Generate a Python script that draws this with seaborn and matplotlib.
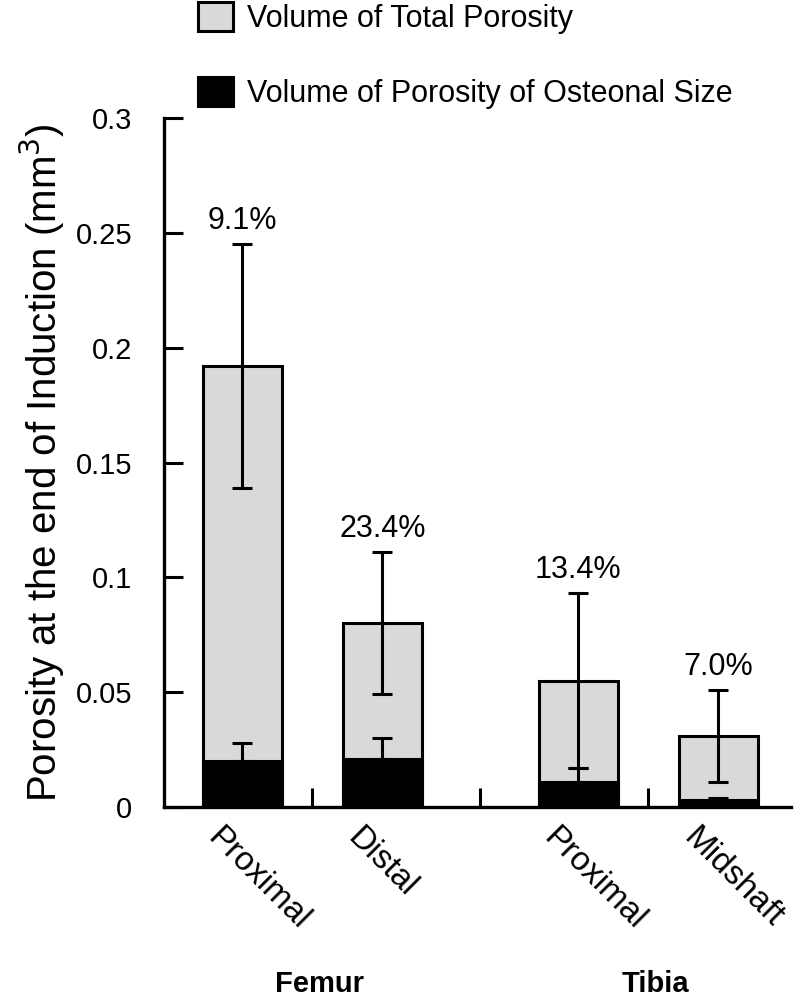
import numpy as np
import pandas as pd
import matplotlib
matplotlib.use("Agg")
import matplotlib.pyplot as plt
import matplotlib.transforms as mtransforms
from matplotlib.patches import Patch
import seaborn as sns

# data
bones = ["Femur", "Femur", "Tibia", "Tibia"]
sites = ["Proximal", "Distal", "Proximal", "Midshaft"]
total_porosity = [0.192, 0.080, 0.055, 0.031]
total_sd = [0.053, 0.031, 0.038, 0.020]
osteonal_porosity = [0.020, 0.021, 0.011, 0.003]
osteonal_sd = [0.008, 0.009, 0.006, 0.001]
pct_labels = ["9.1%", "23.4%", "13.4%", "7.0%"]

# layout: bars within a bone are 1 apart, bones separated by a wider gap
group_gap = 1.4
pos = []
x = 0.0
for i, b in enumerate(bones):
    if i > 0:
        x += group_gap if b != bones[i - 1] else 1.0
    pos.append(x)

df = pd.DataFrame({
    "bone": bones,
    "site": sites,
    "pos": pos,
    "total": total_porosity,
    "total_sd": total_sd,
    "osteonal": osteonal_porosity,
    "osteonal_sd": osteonal_sd,
})

sns.set_style("ticks")
plt.rcParams["font.family"] = ["Liberation Sans", "DejaVu Sans"]
plt.rcParams.update({"text.color": "black", "axes.labelcolor": "black",
                     "xtick.color": "black", "ytick.color": "black",
                     "axes.edgecolor": "black"})

fig = plt.figure(figsize=(8.0, 10.02), dpi=100)
ax = fig.add_axes([0.205, 0.1946, 0.784, 0.6876])

bar_w = 0.566
edge_lw = 2.2
sns.barplot(data=df, x="pos", y="total", native_scale=True, width=bar_w,
            color="#d9d9d9", edgecolor="black", linewidth=edge_lw,
            saturation=1, ax=ax, zorder=2)
ax.errorbar(df["pos"], df["total"], yerr=df["total_sd"], fmt="none",
            ecolor="black", elinewidth=2.2, capsize=7, capthick=2.2, zorder=3)
sns.barplot(data=df, x="pos", y="osteonal", native_scale=True, width=bar_w,
            color="black", edgecolor="black", linewidth=edge_lw,
            saturation=1, ax=ax, zorder=4)
ax.errorbar(df["pos"], df["osteonal"],
            yerr=[np.zeros(len(df)), df["osteonal_sd"]], fmt="none",
            ecolor="black", elinewidth=2.2, capsize=7, capthick=2.2, zorder=5)

for p, t, s, lab in zip(df["pos"], df["total"], df["total_sd"], pct_labels):
    ax.annotate(lab, (p, t + s), xytext=(0, 11), textcoords="offset points",
                ha="center", va="baseline", fontsize=22)

ax.set_xlim(pos[0] - 0.56, pos[-1] + 0.52)
ax.set_ylim(0, 0.3)
ax.set_yticks([0, 0.05, 0.1, 0.15, 0.2, 0.25, 0.3])
ax.set_yticklabels(["0", "0.05", "0.1", "0.15", "0.2", "0.25", "0.3"])
ax.tick_params(axis="y", direction="in", length=14, width=2.2, labelsize=21, pad=23)

ax.set_xticks(pos)
ax.set_xticklabels(sites, rotation=-45, ha="left", va="top",
                   rotation_mode="anchor", fontsize=24)
ax.tick_params(axis="x", which="major", length=0, pad=11)
shift = mtransforms.ScaledTranslation(-14 / 72, 0, fig.dpi_scale_trans)
for lbl in ax.get_xticklabels():
    lbl.set_transform(lbl.get_transform() + shift)
sep = [(pos[i] + pos[i + 1]) / 2 for i in range(len(pos) - 1)]
ax.set_xticks(sep, minor=True)
ax.tick_params(axis="x", which="minor", direction="in", length=14, width=2.2)

sns.despine(ax=ax)
for sp in ["left", "bottom"]:
    ax.spines[sp].set_linewidth(2.4)

ax.set_xlabel("")
ax.set_ylabel("Porosity at the end of Induction (mm$^3$)", fontsize=29, labelpad=6)

# bone group labels under each pair of bars
for bone in ["Femur", "Tibia"]:
    sub = df[df["bone"] == bone]
    cx = sub["pos"].mean()
    ax.text(cx + 0.05, -0.257, bone, transform=ax.get_xaxis_transform(), ha="center",
            va="center", fontsize=21, fontweight="bold")

handles = [Patch(facecolor="#d9d9d9", edgecolor="black", linewidth=2.2,
                 label="Volume of Total Porosity"),
           Patch(facecolor="black", edgecolor="black", linewidth=2.2,
                 label="Volume of Porosity of Osteonal Size")]
fig.legend(handles=handles, loc="upper left", bbox_to_anchor=(0.2475, 0.998),
           frameon=False, fontsize=22, handlelength=1.15, handleheight=1.08,
           handletextpad=0.45, labelspacing=1.4, borderaxespad=0, borderpad=0)

fig.savefig("out.png", dpi=100)
